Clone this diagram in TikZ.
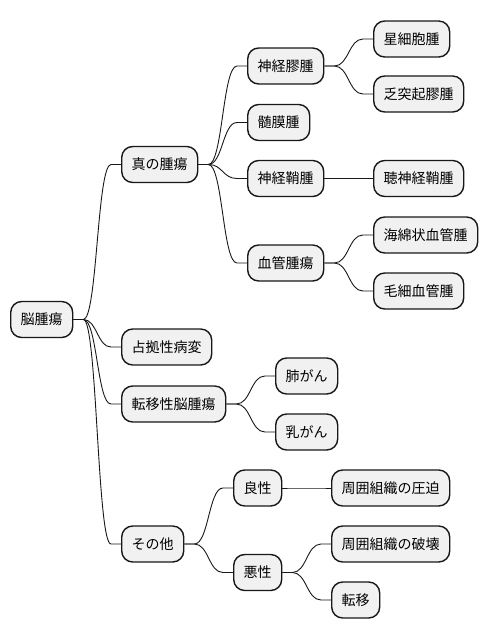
\documentclass[tikz,border=0pt]{standalone}
\usepackage{fontspec}
\newfontfamily\jpfont{Noto Sans CJK JP}
\usetikzlibrary{calc}
\definecolor{boxfill}{HTML}{F1F1F1}
\definecolor{boxline}{HTML}{181818}
\tikzset{
  mmbox/.style={draw=boxline, fill=boxfill, line width=1.4pt, rounded corners=11pt,
    minimum height=36pt, inner xsep=10pt, inner ysep=0pt, anchor=west,
    font=\jpfont\fontsize{14pt}{16pt}\selectfont},
  conn/.style={draw=boxline, line width=0.9pt}
}
\newcommand\mmedge[2]{%
  \draw[conn] let \p1=(#1.east), \p2=(#2.west) in
    (\p1) -- (\x1+10pt,\y1)
    .. controls ({\x1+10pt+0.5*(\x2-\x1-20pt)},\y1) and ({\x1+10pt+0.5*(\x2-\x1-20pt)},\y2) ..
    (\x2-10pt,\y2) -- (\p2);}
\begin{document}
\begin{tikzpicture}[x=1pt,y=-1pt]
\useasboundingbox (0,0) rectangle (488,640);
% root
\node[mmbox] (root) at (10,319.5) {脳腫瘍};
% level 1
\node[mmbox] (shin) at (121,164.5) {真の腫瘍};
\node[mmbox] (senkyo) at (121,347) {占拠性病変};
\node[mmbox] (teni) at (121,404) {転移性脳腫瘍};
\node[mmbox] (sonota) at (121,544) {その他};
% level 2 under shin
\node[mmbox] (shinkei) at (247,66) {神経膠腫};
\node[mmbox] (zuimaku) at (247,122.5) {髄膜腫};
\node[mmbox] (shoshu) at (247,178.5) {神経鞘腫};
\node[mmbox] (kekkan) at (247,263) {血管腫瘍};
% level 3
\node[mmbox] (seisai) at (373,39) {星細胞腫};
\node[mmbox] (bototsu) at (373,94) {乏突起膠腫};
\node[mmbox] (choshin) at (373,178.5) {聴神経鞘腫};
\node[mmbox] (kaimen) at (373,235) {海綿状血管腫};
\node[mmbox] (mosai) at (373,291) {毛細血管腫};
% under teni
\node[mmbox] (hai) at (275,376) {肺がん};
\node[mmbox] (nyu) at (275,432) {乳がん};
% under sonota
\node[mmbox] (ryosei) at (233,488) {良性};
\node[mmbox] (akusei) at (233,572.5) {悪性};
\node[mmbox] (appaku) at (331,488) {周囲組織の圧迫};
\node[mmbox] (hakai) at (331,544) {周囲組織の破壊};
\node[mmbox] (teni2) at (331,600) {転移};
% edges
\mmedge{root}{shin}
\mmedge{root}{senkyo}
\mmedge{root}{teni}
\mmedge{root}{sonota}
\mmedge{shin}{shinkei}
\mmedge{shin}{zuimaku}
\mmedge{shin}{shoshu}
\mmedge{shin}{kekkan}
\mmedge{shinkei}{seisai}
\mmedge{shinkei}{bototsu}
\mmedge{shoshu}{choshin}
\mmedge{kekkan}{kaimen}
\mmedge{kekkan}{mosai}
\mmedge{teni}{hai}
\mmedge{teni}{nyu}
\mmedge{sonota}{ryosei}
\mmedge{sonota}{akusei}
\mmedge{ryosei}{appaku}
\mmedge{akusei}{hakai}
\mmedge{akusei}{teni2}
\end{tikzpicture}
\end{document}
